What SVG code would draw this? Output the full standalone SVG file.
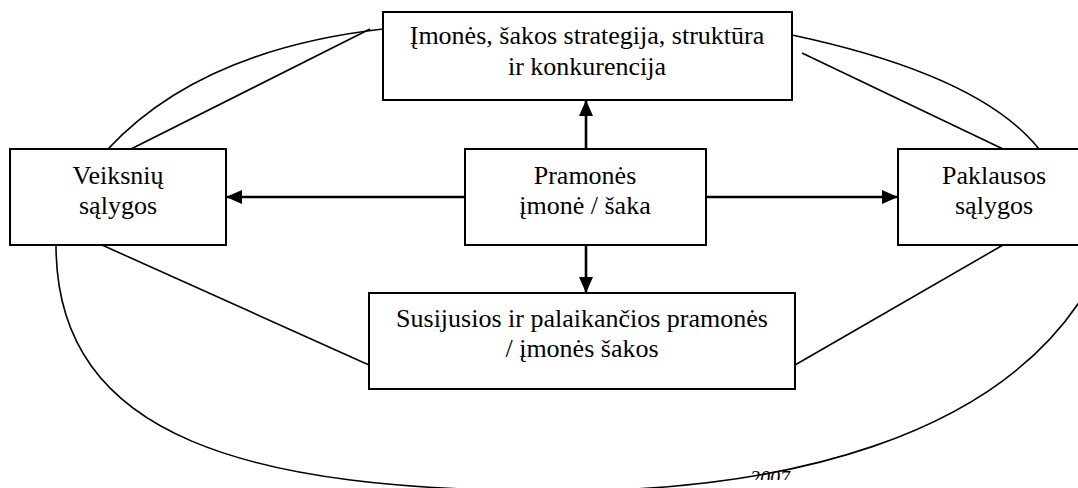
<svg xmlns="http://www.w3.org/2000/svg" width="1078" height="488" viewBox="0 0 1078 488">
  <defs>
    <style>
      .box { fill: #ffffff; stroke: #000000; stroke-width: 2; }
      .lbl { font-size: 26px; fill: #000000; text-anchor: middle; }
      .arrow { fill: none; stroke: #000000; stroke-width: 2.6; marker-end: url(#ah); }
      .thin { fill: none; stroke: #000000; stroke-width: 1.6; }
      .src { font-size: 20px; font-style: italic; fill: #000000; text-anchor: end; }
    </style>
    <marker id="ah" markerUnits="userSpaceOnUse" markerWidth="16" markerHeight="14" viewBox="0 0 16 14" refX="16" refY="7" orient="auto">
      <path d="M0 0 L16 7 L0 14 Z" fill="#000000"/>
    </marker>
    <clipPath id="srcclip">
      <rect x="600" y="440" width="300" height="40"/>
    </clipPath>
  </defs>
  <rect x="0" y="0" width="1078" height="488" fill="#ffffff"/>

  <g font-family="'Liberation Serif', 'DejaVu Serif', serif">
  <text class="src" x="790" y="485" clip-path="url(#srcclip)">2007</text>

  <g id="connectors">
    <path class="thin" d="M108 149 Q200 50 383 29"/>
    <line class="thin" x1="131" y1="149" x2="370" y2="29"/>
    <path class="thin" d="M792 35 Q980 75 1039 149"/>
    <line class="thin" x1="802" y1="53" x2="1003" y2="149"/>
    <line class="thin" x1="102" y1="245" x2="369" y2="365"/>
    <line class="thin" x1="1003" y1="245" x2="795" y2="365"/>
    <path class="thin" d="M56 245 C56 440 250 491 560 491 C780 491 1000 440 1090 285"/>
    <line class="arrow" x1="586" y1="149" x2="586" y2="100"/>
    <line class="arrow" x1="465" y1="197" x2="226" y2="197"/>
    <line class="arrow" x1="706" y1="197" x2="898" y2="197"/>
    <line class="arrow" x1="586" y1="245" x2="586" y2="293"/>
  </g>

  <g id="node-top">
    <rect class="box" x="383" y="12" width="409" height="88"/>
    <text class="lbl" x="587" y="44">Įmonės, šakos strategija, struktūra</text>
    <text class="lbl" x="587" y="75">ir konkurencija</text>
  </g>
  <g id="node-left">
    <rect class="box" x="10" y="149" width="216" height="96"/>
    <text class="lbl" x="118" y="184">Veiksnių</text>
    <text class="lbl" x="118" y="214">sąlygos</text>
  </g>
  <g id="node-center">
    <rect class="box" x="465" y="149" width="241" height="96"/>
    <text class="lbl" x="585" y="184">Pramonės</text>
    <text class="lbl" x="585" y="214">įmonė / šaka</text>
  </g>
  <g id="node-right">
    <rect class="box" x="898" y="149" width="192" height="96"/>
    <text class="lbl" x="994" y="184">Paklausos</text>
    <text class="lbl" x="994" y="214">sąlygos</text>
  </g>
  <g id="node-bottom">
    <rect class="box" x="369" y="293" width="426" height="96"/>
    <text class="lbl" x="582" y="327">Susijusios ir palaikančios pramonės</text>
    <text class="lbl" x="582" y="357">/ įmonės šakos</text>
  </g>
  </g>
</svg>
